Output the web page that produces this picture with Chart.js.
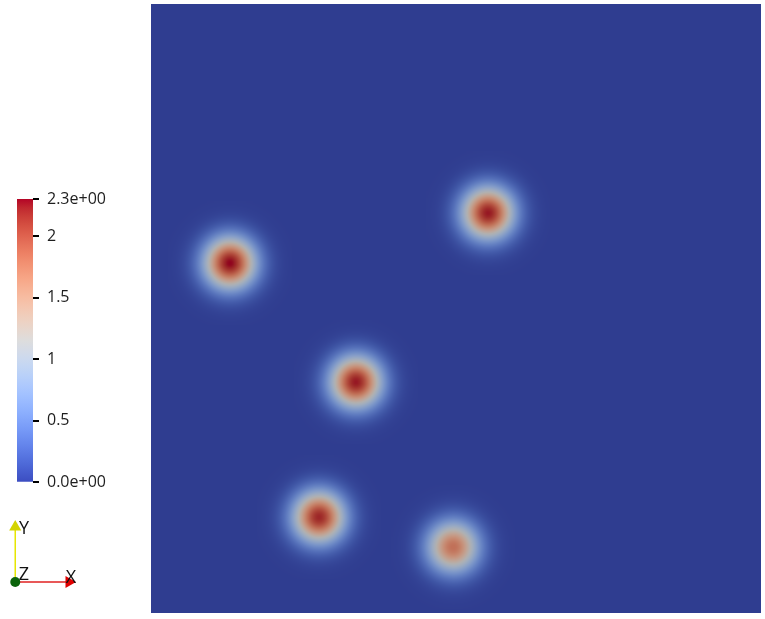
<!DOCTYPE html>
<html>
<head>
<meta charset="utf-8">
<script src="https://cdn.jsdelivr.net/npm/chart.js@4.4.1/dist/chart.umd.min.js"></script>
<style>
  html, body { margin: 0; padding: 0; background: #fff; }
  body { width: 765px; height: 619px; position: relative; overflow: hidden; }
  canvas { position: absolute; }
  #field { left: 0; top: 0; }
  #bar { left: 0; top: 180px; }
  #triad { left: 0; top: 510px; }
</style>
</head>
<body>
<canvas id="field" width="765" height="619"></canvas>
<canvas id="bar" width="120" height="320"></canvas>
<canvas id="triad" width="100" height="90"></canvas>
<script>
// data: blob centres (domain 0..1) and peak values
const blobX = [0.1295, 0.5525, 0.3360, 0.2754, 0.4951];
const blobY = [0.5747, 0.6568, 0.3793, 0.1576, 0.1084];
const blobPeak = [2.3, 2.25, 2.25, 2.2, 1.8];

// colour bar range and ticks
const VMIN = 0;
const VMAX = 2.3;
const barTicks = [0, 0.5, 1, 1.5, 2, 2.3];
const barTickLabels = ["0.0e+00", "0.5", "1", "1.5", "2", "2.3e+00"];

// orientation triad labels
const triadLabels = ["X", "Y", "Z"];

// Cool to Warm colour map (ParaView)
const COOL_WARM = [
  [59,76,192],[68,90,204],[77,104,215],[87,117,225],[98,130,234],[108,142,241],
  [119,154,247],[130,165,251],[141,176,254],[152,185,255],[163,194,255],[174,201,253],
  [184,208,249],[194,213,244],[204,217,238],[213,219,230],[221,221,221],[229,216,209],
  [236,211,197],[241,204,185],[245,196,173],[247,187,160],[247,177,148],[247,166,135],
  [244,154,123],[241,141,111],[236,127,99],[229,112,89],[222,96,77],[213,80,66],
  [203,62,56],[192,40,47],[180,4,38]
];
const SHADE = 0.8;       // lighting of the rendered surface
const BLOB_SIGMA = 18;   // px

function cmap(t) {
  t = Math.max(0, Math.min(1, t));
  const n = COOL_WARM.length - 1;
  const f = t * n;
  const i = Math.min(Math.floor(f), n - 1);
  const u = f - i;
  const a = COOL_WARM[i], b = COOL_WARM[i + 1];
  return [a[0] + (b[0] - a[0]) * u, a[1] + (b[1] - a[1]) * u, a[2] + (b[2] - a[2]) * u];
}
function surfaceColor(t) {
  const c = cmap(t);
  const blueCut = 10 * Math.max(0, 1 - 2 * t);
  return [c[0] * SHADE, c[1] * SHADE, c[2] * SHADE - blueCut];
}
function rgb(c) {
  return "rgb(" + Math.round(c[0]) + "," + Math.round(c[1]) + "," + Math.round(c[2]) + ")";
}

// one image per blob, used as point style
function blobImage(peak) {
  const R = Math.ceil(BLOB_SIGMA * 3.4);
  const c = document.createElement("canvas");
  c.width = c.height = 2 * R;
  const g = c.getContext("2d");
  const img = g.createImageData(2 * R, 2 * R);
  for (let y = 0; y < 2 * R; y++) {
    for (let x = 0; x < 2 * R; x++) {
      const dx = x + 0.5 - R, dy = y + 0.5 - R;
      const v = peak * Math.exp(-(dx * dx + dy * dy) / (2 * BLOB_SIGMA * BLOB_SIGMA));
      const col = surfaceColor((v - VMIN) / (VMAX - VMIN));
      const k = (y * 2 * R + x) * 4;
      img.data[k] = col[0];
      img.data[k + 1] = col[1];
      img.data[k + 2] = col[2];
      img.data[k + 3] = 255;
    }
  }
  g.putImageData(img, 0, 0);
  return c;
}
const blobImages = blobPeak.map(blobImage);

// main field
new Chart(document.getElementById("field"), {
  type: "scatter",
  data: {
    datasets: [{
      data: blobX.map((x, i) => ({ x: x, y: blobY[i] })),
      pointStyle: (ctx) => blobImages[ctx.dataIndex],
      pointRadius: 20,
      pointHoverRadius: 20,
    }],
  },
  options: {
    responsive: false,
    animation: false,
    events: [],
    layout: { autoPadding: false, padding: { left: 151, top: 4, right: 4, bottom: 6 } },
    plugins: { legend: { display: false }, tooltip: { enabled: false } },
    scales: {
      x: { type: "linear", min: 0, max: 1, display: false },
      y: { type: "linear", min: 0, max: 1, display: false },
    },
  },
  plugins: [{
    id: "bg",
    beforeDatasetsDraw(chart) {
      const a = chart.chartArea;
      const c = chart.ctx;
      c.save();
      c.fillStyle = rgb(surfaceColor(0));
      c.fillRect(a.left, a.top, a.right - a.left, a.bottom - a.top);
      c.restore();
    },
  }],
});

// colour bar
new Chart(document.getElementById("bar"), {
  type: "bar",
  data: {
    labels: [""],
    datasets: [{
      data: [VMAX],
      backgroundColor: (ctx) => {
        const a = ctx.chart.chartArea;
        if (!a) return null;
        const g = ctx.chart.ctx.createLinearGradient(0, a.bottom, 0, a.top);
        COOL_WARM.forEach((c, i) => g.addColorStop(i / (COOL_WARM.length - 1), rgb(c)));
        return g;
      },
      borderWidth: 0,
      barPercentage: 1,
      categoryPercentage: 1,
    }],
  },
  options: {
    responsive: false,
    animation: false,
    events: [],
    layout: { autoPadding: false, padding: { left: 17, top: 19, right: 0, bottom: 17 } },
    plugins: { legend: { display: false }, tooltip: { enabled: false } },
    scales: {
      x: { display: false },
      y: {
        position: "right",
        min: VMIN,
        max: VMAX,
        afterBuildTicks: (s) => { s.ticks = barTicks.map((v) => ({ value: v })); },
        afterFit: (s) => { s.width = 87; },
        ticks: {
          autoSkip: false,
          padding: 8,
          color: "#1e1e1e",
          font: { family: "Open Sans", size: 16 },
          callback: (v, i) => barTickLabels[i],
        },
        grid: { drawOnChartArea: false, tickLength: 6, color: "#000", lineWidth: 2 },
        border: { display: false },
      },
    },
  },
});

// orientation triad
new Chart(document.getElementById("triad"), {
  type: "scatter",
  data: {
    datasets: [
      { data: [{ x: 0, y: 0 }], pointStyle: "circle", pointRadius: 5, backgroundColor: "#0b640b", borderWidth: 0 },
      { data: [{ x: 0.882, y: 0 }], pointStyle: "triangle", rotation: 90, pointRadius: 7, backgroundColor: "#e00000", borderWidth: 0 },
      { data: [{ x: 0, y: 0.887 }], pointStyle: "triangle", rotation: 0, pointRadius: 7, backgroundColor: "#d4d400", borderWidth: 0 },
      { data: [{ x: 0, y: 0 }, { x: 0.882, y: 0 }], showLine: true, borderColor: "#e02020", borderWidth: 1.5, pointRadius: 0 },
      { data: [{ x: 0, y: 0 }, { x: 0, y: 0.887 }], showLine: true, borderColor: "#e6e600", borderWidth: 1.5, pointRadius: 0 },
    ],
  },
  options: {
    responsive: false,
    animation: false,
    events: [],
    layout: { autoPadding: false, padding: 0 },
    plugins: { legend: { display: false }, tooltip: { enabled: false } },
    scales: {
      x: { type: "linear", min: -0.25, max: 1.39, display: false },
      y: { type: "linear", min: -0.29, max: 1.161, display: false },
    },
  },
  plugins: [{
    id: "triadLabels",
    afterDatasetsDraw(chart) {
      const pos = { X: [0.915, 0.073], Y: [0.144, 0.85], Z: [0.144, 0.113] };
      const c = chart.ctx;
      c.save();
      c.fillStyle = "#111";
      c.font = "18px 'Open Sans'";
      c.textAlign = "center";
      c.textBaseline = "middle";
      triadLabels.forEach((t) => {
        c.fillText(t, chart.scales.x.getPixelForValue(pos[t][0]), chart.scales.y.getPixelForValue(pos[t][1]));
      });
      c.restore();
    },
  }],
});
</script>
</body>
</html>
